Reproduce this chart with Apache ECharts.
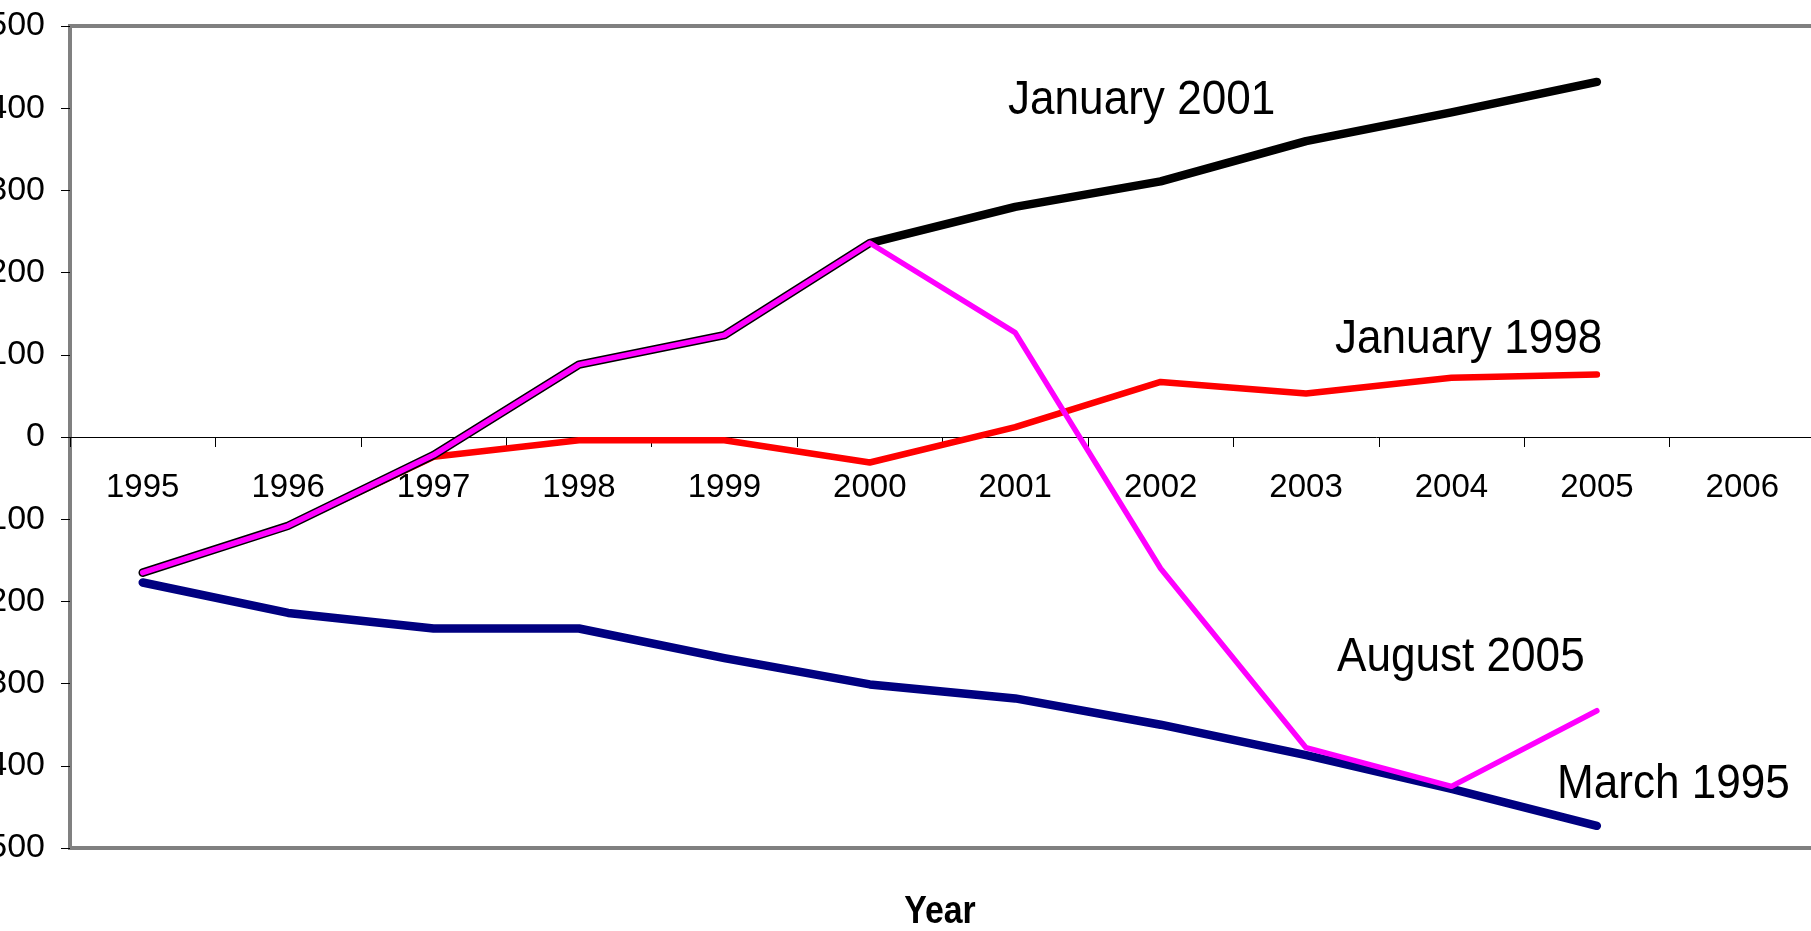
<!DOCTYPE html>
<html>
<head>
<meta charset="utf-8">
<script src="https://cdn.jsdelivr.net/npm/echarts@6/dist/echarts.min.js"></script>
<style>
html,body{margin:0;padding:0;background:#fff;}
#chart{width:1811px;height:931px;}
</style>
</head>
<body>
<div id="chart"></div>
<script>
const years = ['1995','1996','1997','1998','1999','2000','2001','2002','2003','2004','2005','2006'];
const yTicks = { min: -500, max: 500, interval: 100 };
const march1995 = [-177,-214,-233,-233,-269,-301,-318,-350,-387,-428,-473,null];
const january1998 = [-165,-108,-24,-4,-4,-31,12,67,53,72,76,null];
const january2001 = [-165,-108,-22,88,124,236,280,311,360,395,432,null];
const august2005 = [-165,-108,-22,88,124,236,127,-160,-378,-425,-333,null];
const seriesNames = ['March 1995','January 1998','January 2001','August 2005'];
const axisTitle = 'Year';

const FONT = "'Liberation Sans', Arial, sans-serif";
const chart = echarts.init(document.getElementById('chart'), null, {renderer:'canvas'});

function lineSeries(name, data, color, width, z){
  return {
    name: name, type: 'line', data: data, symbol: 'none', smooth: false, z: z,
    connectNulls: false, silent: true,
    lineStyle: { color: color, width: width, cap: 'round', join: 'round' }
  };
}

const GRID = { left: 70, top: 26, right: -4, bottom: 83 };
const plotH = 931 - GRID.top - GRID.bottom;

function annot(text, x, y, size, sx){
  return { type:'text', x:x, y:y, z:10, scaleX:sx, style:{ text:text, font: size + "px " + FONT, fill:'#000', verticalAlign:'middle' } };
}

const option = {
  animation: false,
  backgroundColor: '#ffffff',
  grid: {
    left: GRID.left, top: GRID.top, right: GRID.right, bottom: GRID.bottom,
    containLabel: false, outerBoundsMode: 'none',
    show: true, borderColor: '#808080', borderWidth: 4, backgroundColor: '#ffffff'
  },
  xAxis: {
    type: 'category', data: years, boundaryGap: true,
    offset: -plotH / 2,
    axisLine: { onZero: false, lineStyle: { color: '#000', width: 1 } },
    axisTick: { show: true, length: 10, lineStyle: { color: '#000', width: 1 } },
    axisLabel: { color: '#000', fontFamily: FONT, fontSize: 33, margin: 34, verticalAlign: 'top' },
    splitLine: { show: false }
  },
  yAxis: {
    type: 'value', min: yTicks.min, max: yTicks.max, interval: yTicks.interval,
    axisLine: { show: false },
    axisTick: { show: true, length: 9, lineStyle: { color: '#000', width: 1 } },
    axisLabel: { color: '#000', fontFamily: FONT, fontSize: 34, margin: 25 },
    splitLine: { show: false }
  },
  series: [
    lineSeries(seriesNames[0], march1995, '#000080', 8.5, 2),
    lineSeries(seriesNames[1], january1998, '#ff0000', 6.5, 3),
    lineSeries(seriesNames[2], january2001, '#000000', 8.5, 4),
    lineSeries(seriesNames[3], august2005, '#ff00ff', 5.5, 5)
  ],
  graphic: [
    annot(seriesNames[2], 1008, 100, 49, 0.9),
    annot(seriesNames[1], 1335, 339, 49, 0.9),
    annot(seriesNames[3], 1337, 657, 49, 0.9),
    annot(seriesNames[0], 1557, 784, 49, 0.9),
    { type:'text', x:940, y:913, z:10, scaleX:0.89, style:{ text: axisTitle, font: "bold 38px " + FONT, fill:'#000', align:'center', verticalAlign:'middle' } }
  ]
};
chart.setOption(option);
</script>
</body>
</html>
